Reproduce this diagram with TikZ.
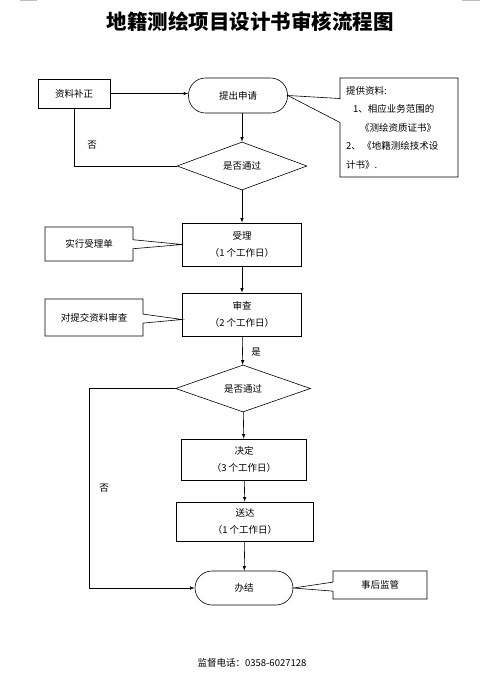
\documentclass[tikz,border=0pt]{standalone}
\usepackage{fontspec}
\setmainfont{Noto Sans CJK SC}
\usepackage{tikz}
\usetikzlibrary{arrows,shapes.geometric,shapes.callouts}

\begin{document}
\begin{tikzpicture}[x=1pt, y=-1pt, >=latex,
         auto, semithick, font=\fontsize{9.5}{17}\selectfont]
  \tikzstyle{box}=[draw=black, shape=rectangle, align=center, inner sep=0pt]
  \tikzstyle{rbox}=[box, rounded corners=17pt]
  \tikzstyle{dia}=[draw=black, shape=diamond, aspect=2.8, inner sep=0pt]
  \tikzstyle{note}=[draw=black, shape=rectangle callout, inner sep=0pt, callout pointer width=9pt]
  \tikzstyle{empt} = [draw=none,fill=none]
\useasboundingbox (0,0) rectangle (500,687);
\draw[gray!50, line width=1.5pt] (20,0.75) -- (37,0.75) (462,0.75) -- (480,0.75);
\node[empt, font=\bfseries\fontsize{20.5}{24}\selectfont] (tt) at (250,22) {地籍测绘项目设计书审核流程图};
% main chain
\node[box, minimum width=72pt, minimum height=29pt] (bz) at (74,93.5) {资料补正};
\node[rbox, minimum width=99pt, minimum height=35pt] (sq) at (238,95.5) {提出申请};
\node[dia, minimum width=130pt, minimum height=48pt] (pd1) at (242,166) {是否通过};
\node[box, minimum width=119pt, minimum height=43pt] (sl) at (242,244.5) {受理\\（1 个工作日）};
\node[box, minimum width=119pt, minimum height=43pt] (sc) at (242,314.5) {审查\\（2 个工作日）};
\node[dia, minimum width=135pt, minimum height=47pt] (pd2) at (243,388.5) {是否通过};
\node[box, minimum width=125pt, minimum height=41pt] (jd) at (244,459.5) {决定\\（3 个工作日）};
\node[box, minimum width=137pt, minimum height=39pt] (sd) at (245,521.5) {送达\\（1 个工作日）};
\node[rbox, minimum width=98pt, minimum height=34pt] (bj) at (244,588) {办结};
% notes
\node[note, minimum width=118pt, minimum height=99pt, text width=106pt, align=left,
      callout absolute pointer={(sq.east)}, callout pointer width=24pt,
      font=\fontsize{9.5}{18.5}\selectfont] (tg) at (399,127.5)
      {提供资料:\\\hspace*{7pt}1、相应业务范围的\\\hspace*{14pt}《测绘资质证书》\\2、\,《地籍测绘技术设\\计书》.};
\node[note, minimum width=88pt, minimum height=34pt, callout absolute pointer={(sl.west)}] (dan) at (89,244) {实行受理单};
\node[note, minimum width=98pt, minimum height=37pt, callout absolute pointer={([yshift=-5pt]sc.west)}] (dsc) at (94,317.5) {对提交资料审查};
\node[note, minimum width=94pt, minimum height=28pt, callout absolute pointer={(bj.east)}] (jg) at (380,585) {事后监管};
% labels
\node[empt] (f1) at (92,145) {否};
\node[empt] (s1) at (256,352) {是};
\node[empt] (f2) at (104,488) {否};
\node[empt] (tel) at (252,663) {监督电话：0358-6027128};
\path
(bz) edge [->] (bz.east -| sq.west)
(sq.south -| pd1.north) edge [->] (pd1.north)
(pd1) edge [->] (sl)
(sl) edge [->] (sc)
(sc) edge [->] (pd2)
(pd2) edge [->] (jd)
(jd) edge [->] (sd)
(sd) edge [->] (bj);
\draw (pd1.west) -| (bz.south);
\draw[->] (pd2.west) -- ++(-86,0) |- (bj.west);
\end{tikzpicture}
\end{document}
